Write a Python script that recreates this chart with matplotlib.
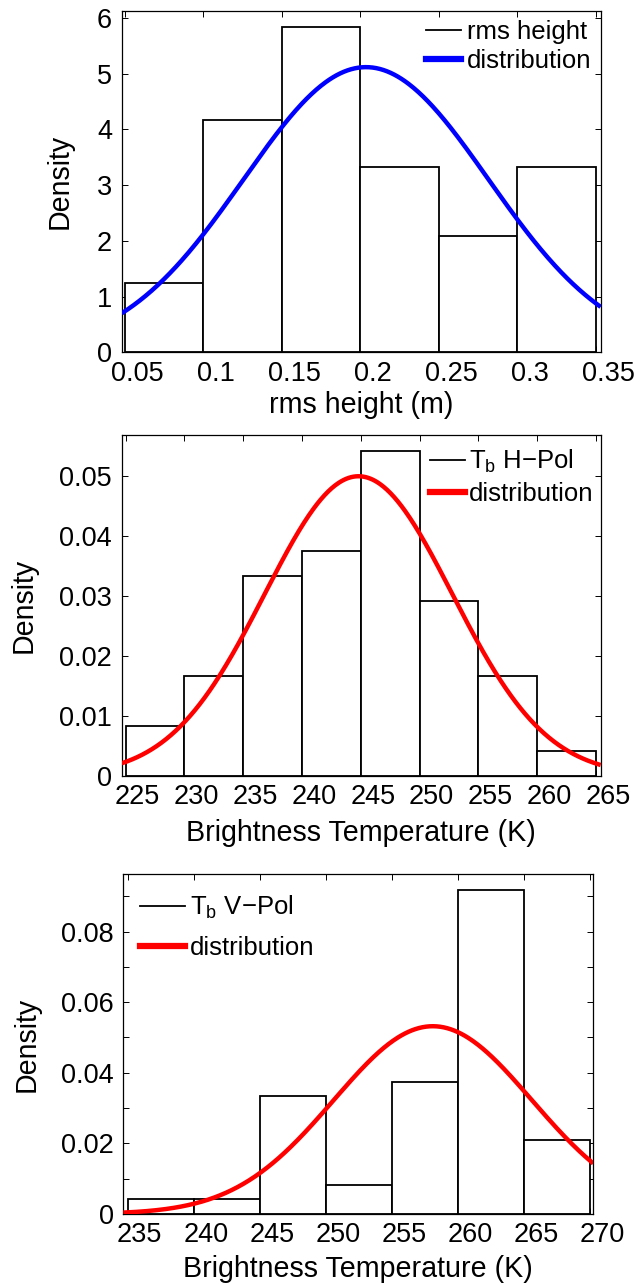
import numpy as np
import matplotlib
matplotlib.use("Agg")
import matplotlib.pyplot as plt
import matplotlib.transforms as mtransforms
from matplotlib.ticker import MultipleLocator

plt.rcParams['font.family'] = ['Liberation Sans', 'DejaVu Sans']
plt.rcParams['mathtext.fontset'] = 'custom'
plt.rcParams['mathtext.rm'] = 'Liberation Sans'
plt.rcParams['mathtext.it'] = 'Liberation Sans'
plt.rcParams['mathtext.default'] = 'regular'

TICK_FS = 19.5
LABEL_FS = 20.6
LEG_FS = 18.5

# ---------------- data ----------------
# Panel 1: rms height
rms_edges = [0.05, 0.10, 0.15, 0.20, 0.25, 0.30, 0.35]
rms_density = [1.25, 4.17, 5.83, 3.33, 2.08, 3.33]
rms_mu, rms_sigma = 0.2035, 0.078
rms_xlim = (0.0479, 0.353)
rms_xticks = [0.05, 0.1, 0.15, 0.2, 0.25, 0.3, 0.35]
rms_xticklabels = ['0.05', '0.1', '0.15', '0.2', '0.25', '0.3', '0.35']
rms_yticks = [0, 1, 2, 3, 4, 5, 6]

# Panel 2: Tb H-Pol
h_edges = [225, 230, 235, 240, 245, 250, 255, 260, 265]
h_density = [0.00833, 0.01667, 0.03333, 0.0375, 0.05417, 0.02917, 0.01667, 0.00417]
h_mu, h_sigma = 244.8, 7.98
h_xlim = (224.66, 265.4)
h_xticks = [225, 230, 235, 240, 245, 250, 255, 260, 265]
h_yticks = [0, 0.01, 0.02, 0.03, 0.04, 0.05]
h_yticklabels = ['0', '0.01', '0.02', '0.03', '0.04', '0.05']

# Panel 3: Tb V-Pol
v_edges = [235, 240, 245, 250, 255, 260, 265, 270]
v_density = [0.00417, 0.00417, 0.03333, 0.00833, 0.0375, 0.09167, 0.02083]
v_mu, v_sigma = 258.1, 7.5
v_xlim = (234.67, 270.25)
v_xticks = [235, 240, 245, 250, 255, 260, 265, 270]
v_yticks = [0, 0.02, 0.04, 0.06, 0.08]
v_yticklabels = ['0', '0.02', '0.04', '0.06', '0.08']

labels1 = ['rms height', 'distribution']
labels2 = ['T$_{b}$ H\u2212Pol', 'distribution']
labels3 = ['T$_{b}$ V\u2212Pol', 'distribution']
xlabel1 = 'rms height (m)'
xlabel_tb = 'Brightness Temperature (K)'

# ---------------- figure ----------------
fig = plt.figure(figsize=(6.44, 12.85), dpi=100)
W, H = 644.0, 1285.0


def axes_px(l, r, t, b):
    return fig.add_axes([l / W, (H - b) / H, (r - l) / W, (b - t) / H])


ax1 = axes_px(121.7, 600.7, 11.0, 352.3)
ax2 = axes_px(121.7, 600.7, 435.0, 775.7)
ax3 = axes_px(123.3, 593.3, 874.2, 1214.0)


def normpdf(x, mu, s):
    return np.exp(-0.5 * ((x - mu) / s) ** 2) / (s * np.sqrt(2 * np.pi))


def panel(ax, edges, dens, mu, sigma, xlim, color, xlabel):
    edges = np.asarray(edges, float)
    widths = np.diff(edges)
    ax.bar(edges[:-1], dens, width=widths, align='edge',
           facecolor='white', edgecolor='black', linewidth=1.3, zorder=2)
    xs = np.linspace(xlim[0], xlim[1], 400)
    ax.plot(xs, normpdf(xs, mu, sigma), color=color, lw=3.2, zorder=3,
            solid_capstyle='butt')
    ax.set_xlim(*xlim)
    ax.set_ylim(0, 1.05 * max(dens))
    ax.set_ylabel('Density', fontsize=LABEL_FS)
    ax.set_xlabel(xlabel, fontsize=LABEL_FS, va='top')
    ax.tick_params(direction='in', top=True, right=True, length=4, width=0.7,
                   labelsize=TICK_FS)
    ax.tick_params(axis='x', pad=6.0)
    ax.tick_params(axis='y', pad=7.0)
    ax.tick_params(which='minor', direction='in', top=True, right=True,
                   length=4, width=0.7)
    for sp in ax.spines.values():
        sp.set_linewidth(0.9)
    handle_bar = plt.Line2D([], [], color='black', lw=1.3)
    handle_line = plt.Line2D([], [], color=color, lw=4.5)
    return handle_bar, handle_line


def shift_xticklabels(ax, dx_px=12):
    off = mtransforms.ScaledTranslation(dx_px / 100.0, 0, fig.dpi_scale_trans)
    for lab in ax.get_xticklabels():
        lab.set_transform(lab.get_transform() + off)


hb, hl = panel(ax1, rms_edges, rms_density, rms_mu, rms_sigma, rms_xlim, 'blue', xlabel1)
ax1.set_xticks(rms_xticks)
ax1.set_xticklabels(rms_xticklabels)
ax1.set_yticks(rms_yticks)
ax1.legend([hb, hl], labels1, loc='upper left', bbox_to_anchor=(0.6347, 0.974),
           frameon=False, fontsize=LEG_FS, borderpad=0, borderaxespad=0,
           handlelength=1.37, handletextpad=0.25, labelspacing=0.19)
ax1.yaxis.set_label_coords(-0.10, 0.5)
ax1.xaxis.set_label_coords(0.5, -0.112)
shift_xticklabels(ax1)

hb, hl = panel(ax2, h_edges, h_density, h_mu, h_sigma, h_xlim, 'red', xlabel_tb)
ax2.set_xticks(h_xticks)
ax2.set_yticks(h_yticks)
ax2.set_yticklabels(h_yticklabels)
ax2.legend([hb, hl], labels2, loc='upper left', bbox_to_anchor=(0.6436, 0.962),
           frameon=False, fontsize=LEG_FS, borderpad=0, borderaxespad=0,
           handlelength=1.37, handletextpad=0.15, labelspacing=0.28)
ax2.yaxis.set_label_coords(-0.175, 0.5)
ax2.xaxis.set_label_coords(0.5, -0.128)
shift_xticklabels(ax2)

hb, hl = panel(ax3, v_edges, v_density, v_mu, v_sigma, v_xlim, 'red', xlabel_tb)
ax3.set_xticks(v_xticks)
ax3.set_yticks(v_yticks)
ax3.set_yticklabels(v_yticklabels)
ax3.yaxis.set_minor_locator(MultipleLocator(0.01))
ax3.legend([hb, hl], labels3, loc='upper left', bbox_to_anchor=(0.0355, 0.941),
           frameon=False, fontsize=LEG_FS, borderpad=0, borderaxespad=0,
           handlelength=1.75, handletextpad=0.2, labelspacing=0.58)
ax3.yaxis.set_label_coords(-0.175, 0.5)
ax3.xaxis.set_label_coords(0.5, -0.12)
shift_xticklabels(ax3)

fig.savefig('out.png', dpi=100)
